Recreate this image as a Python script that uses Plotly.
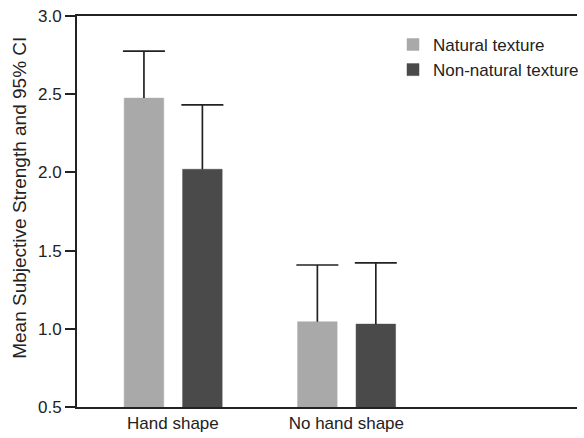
import plotly.graph_objects as go

# ---- data ----
categories = ["Hand shape", "No hand shape"]
series_names = ["Natural texture", "Non-natural texture"]
natural_mean = [2.475, 1.045]
natural_upper = [2.775, 1.408]
nonnatural_mean = [2.02, 1.03]
nonnatural_upper = [2.432, 1.422]
y_ticks = [0.5, 1.0, 1.5, 2.0, 2.5, 3.0]
y_title = "Mean Subjective Strength and 95% CI"

# ---- style / layout constants ----
COL_NAT = "#a9a9a9"
COL_NON = "#4a4a4a"
LINE = "#222222"
FONT = "Liberation Sans, Arial, sans-serif"
BAR_W = 0.228
OFFSETS = [-0.281, 0.056]

xs = list(range(len(categories)))
fig = go.Figure()

series = [
    (series_names[0], natural_mean, natural_upper, COL_NAT, OFFSETS[0]),
    (series_names[1], nonnatural_mean, nonnatural_upper, COL_NON, OFFSETS[1]),
]

for name, means, uppers, col, off in series:
    fig.add_trace(go.Bar(
        x=xs, y=[m - 0.5 for m in means], base=0.5, name=name,
        width=BAR_W, offset=off,
        marker=dict(color=col, line=dict(color=col, width=0.5)),
        hoverinfo="skip",
    ))

for name, means, uppers, col, off in series:
    cx = [x + off + BAR_W / 2 for x in xs]
    lx, ly = [], []
    for c, m, u in zip(cx, means, uppers):
        lx += [c, c, None]
        ly += [m, u, None]
    fig.add_trace(go.Scatter(
        x=lx, y=ly, mode="lines", line=dict(color=LINE, width=1.7),
        showlegend=False, hoverinfo="skip",
    ))
    fig.add_trace(go.Scatter(
        x=cx, y=uppers, mode="markers",
        marker=dict(symbol="line-ew-open", size=30, color=LINE,
                    line=dict(color=LINE, width=1.7)),
        showlegend=False, hoverinfo="skip",
    ))

fig.add_annotation(
    text=y_title, xref="paper", yref="paper", x=0, y=0.535,
    xanchor="center", yanchor="middle", xshift=-57, textangle=-90,
    showarrow=False, font=dict(size=19, color="#222222"),
)

fig.update_layout(
    width=584, height=438,
    margin=dict(l=77, r=0, t=16, b=31),
    paper_bgcolor="white", plot_bgcolor="white",
    font=dict(family=FONT, size=17, color="#222222"),
    barmode="overlay",
    showlegend=True,
    legend=dict(
        x=0.632, y=0.972, xanchor="left", yanchor="top",
        bgcolor="rgba(0,0,0,0)", font=dict(size=17, color="#222222"),
        itemwidth=30, tracegroupgap=0,
    ),
    xaxis=dict(
        range=[-0.553, 2.33], tickmode="array", tickvals=xs, ticktext=categories,
        showline=True, linecolor=LINE, linewidth=1.7, mirror=True,
        showgrid=False, zeroline=False, ticks="", fixedrange=True,
        tickfont=dict(size=17), automargin=False,
    ),
    yaxis=dict(
        range=[0.5, 3.0], tickmode="array", tickvals=y_ticks,
        ticktext=[f"{v:.1f}" for v in y_ticks],
        showline=True, linecolor=LINE, linewidth=1.7,
        ticks="outside", ticklen=10, tickwidth=1.7, tickcolor=LINE,
        showgrid=False, zeroline=False, fixedrange=True,
        tickfont=dict(size=17), automargin=False,
    ),
)

fig.write_html(
    "out.html",
    config={"displayModeBar": False},
    post_script="document.body.style.margin='0';document.body.style.overflow='hidden';",
)
